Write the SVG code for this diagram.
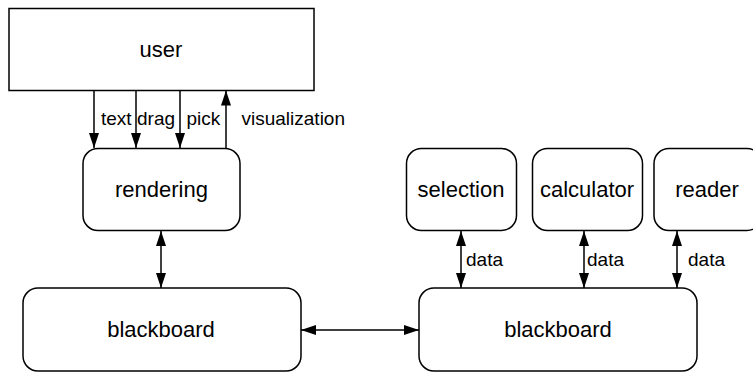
<svg xmlns="http://www.w3.org/2000/svg" width="753" height="372" viewBox="0 0 753 372">
<style>
.box{fill:#fff;stroke:#000;stroke-width:1.5}
.node{font-family:"Liberation Sans",Arial,sans-serif;font-size:22px;fill:#000;text-anchor:middle}
.lbl{font-family:"Liberation Sans",Arial,sans-serif;font-size:19px;fill:#000}
.edge{stroke:#000;stroke-width:1.5;fill:none}
</style>
<defs>
<marker id="ah" markerUnits="userSpaceOnUse" markerWidth="15" markerHeight="10" refX="15" refY="5" orient="auto-start-reverse">
<path d="M0,0 L15,5 L0,10 z" fill="#000"/>
</marker>
</defs>
<rect width="753" height="372" fill="#fff"/>
<g id="user"><rect class="box" x="9" y="8.5" width="305" height="82"/><text class="node" x="161" y="57">user</text></g>
<g id="rendering"><rect class="box" x="83" y="148.5" width="157" height="82" rx="15"/><text class="node" x="161.5" y="197">rendering</text></g>
<g id="blackboard1"><rect class="box" x="23" y="288" width="278" height="83" rx="15"/><text class="node" x="161" y="337">blackboard</text></g>
<g id="blackboard2"><rect class="box" x="419" y="288" width="278" height="83" rx="15"/><text class="node" x="558" y="337">blackboard</text></g>
<g id="selection"><rect class="box" x="406.5" y="148.5" width="110" height="82" rx="15"/><text class="node" x="461" y="197">selection</text></g>
<g id="calculator"><rect class="box" x="532.5" y="148.5" width="110" height="82" rx="15"/><text class="node" x="587" y="197">calculator</text></g>
<g id="reader"><rect class="box" x="654" y="148.5" width="108" height="82" rx="15"/><text class="node" x="707" y="197">reader</text></g>
<g id="connectors">
<line class="edge" x1="94" y1="90.5" x2="94" y2="148" marker-end="url(#ah)"/>
<line class="edge" x1="136" y1="90.5" x2="136" y2="148" marker-end="url(#ah)"/>
<line class="edge" x1="180" y1="90.5" x2="180" y2="148" marker-end="url(#ah)"/>
<line class="edge" x1="226" y1="148" x2="226" y2="90.5" marker-end="url(#ah)"/>
<line class="edge" x1="161" y1="231" x2="161" y2="288" marker-start="url(#ah)" marker-end="url(#ah)"/>
<line class="edge" x1="301" y1="330" x2="419" y2="330" marker-start="url(#ah)" marker-end="url(#ah)"/>
<line class="edge" x1="461" y1="231" x2="461" y2="288" marker-start="url(#ah)" marker-end="url(#ah)"/>
<line class="edge" x1="584" y1="231" x2="584" y2="288" marker-start="url(#ah)" marker-end="url(#ah)"/>
<line class="edge" x1="677" y1="231" x2="677" y2="288" marker-start="url(#ah)" marker-end="url(#ah)"/>
<text class="lbl" x="101" y="125">text</text>
<text class="lbl" x="137" y="125">drag</text>
<text class="lbl" x="186.5" y="125">pick</text>
<text class="lbl" x="241.5" y="125">visualization</text>
<text class="lbl" x="466" y="266">data</text>
<text class="lbl" x="587" y="266">data</text>
<text class="lbl" x="688" y="266">data</text>
</g>
</svg>
